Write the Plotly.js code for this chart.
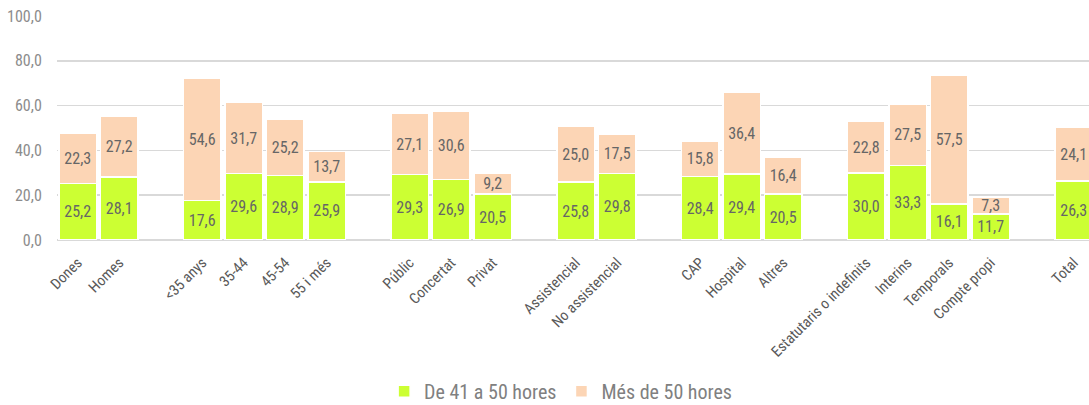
<!DOCTYPE html>
<html>
<head>
<meta charset="utf-8">
<script src="https://cdn.plot.ly/plotly-3.0.1.min.js"></script>
<style>html,body{margin:0;padding:0;background:#fff;}#chart{width:1089px;height:405px;}</style>
</head>
<body>
<div id="chart"></div>
<script>
// Groups of categories (a blank slot separates each group)
const groups = [
  ["Dones", "Homes"],
  ["<35 anys", "35-44", "45-54", "55 i més"],
  ["Públic", "Concertat", "Privat"],
  ["Assistencial", "No assistencial"],
  ["CAP", "Hospital", "Altres"],
  ["Estatutaris o indefinits", "Interins", "Temporals", "Compte propi"],
  ["Total"]
];
// Series values, same order as the flattened groups
const de41a50 = [25.2, 28.1, 17.6, 29.6, 28.9, 25.9, 29.3, 26.9, 20.5, 25.8, 29.8, 28.4, 29.4, 20.5, 30.0, 33.3, 16.1, 11.7, 26.3];
const mesDe50 = [22.3, 27.2, 54.6, 31.7, 25.2, 13.7, 27.1, 30.6, 9.2, 25.0, 17.5, 15.8, 36.4, 16.4, 22.8, 27.5, 57.5, 7.3, 24.1];
const seriesNames = ["De 41 a 50 hores", "Més de 50 hores"];
const yTicks = [0, 20, 40, 60, 80, 100];

// Build categorical x with spacer slots between groups
const cats = [], v1 = [], v2 = [];
let k = 0;
groups.forEach((g, gi) => {
  if (gi > 0) { cats.push(" ".repeat(gi)); v1.push(null); v2.push(null); }
  g.forEach(c => { cats.push(c); v1.push(de41a50[k]); v2.push(mesDe50[k]); k++; });
});

const FONT = '"Roboto Condensed", "Liberation Sans Narrow", "Arial Narrow", Roboto, sans-serif';
const common = {
  type: "bar",
  x: cats,
  texttemplate: "%{y:.1f}",
  textposition: "inside",
  insidetextanchor: "middle",
  constraintext: "none",
  textangle: 0,
  textfont: {family: FONT, size: 16, color: "#666666"},
  hoverinfo: "skip",
  cliponaxis: false
};
const traces = [
  Object.assign({}, common, {y: v1, name: seriesNames[0], marker: {color: "#CCFF33", line: {color: "#ffffff", width: 1.5}}}),
  Object.assign({}, common, {y: v2, name: seriesNames[1], marker: {color: "#FCD5B5", line: {color: "#ffffff", width: 1.5}}})
];

const layout = {
  width: 1089, height: 405,
  margin: {l: 57, r: 0, t: 16, b: 165, autoexpand: false},
  barmode: "stack",
  bargap: 0.09,
  separators: ",.",
  paper_bgcolor: "#ffffff",
  plot_bgcolor: "#ffffff",
  font: {family: FONT, color: "#595959"},
  showlegend: true,
  legend: {
    orientation: "h", x: 0.488, xanchor: "center", y: -0.675, yanchor: "middle",
    font: {family: FONT, size: 20, color: "#808080"},
    traceorder: "normal", itemclick: false, itemdoubleclick: false
  },
  xaxis: {
    type: "category",
    categoryorder: "array", categoryarray: cats,
    range: [-0.5, 24.37],
    tickangle: -45,
    tickfont: {family: FONT, size: 15, color: "#595959"},
    showgrid: false,
    showline: false,
    ticks: "outside", ticklen: 7, tickcolor: "rgba(0,0,0,0)",
    zeroline: false,
    automargin: false
  },
  yaxis: {
    range: [0, 100],
    tickvals: yTicks,
    tickformat: ".1f",
    tickfont: {family: FONT, size: 16, color: "#8C8C8C"},
    showgrid: true, gridcolor: "#D9D9D9", gridwidth: 1.5,
    zeroline: true, zerolinecolor: "#D9D9D9", zerolinewidth: 2,
    showline: false,
    ticks: "outside", ticklen: 11, tickcolor: "rgba(0,0,0,0)",
    automargin: false
  }
};
Plotly.newPlot("chart", traces, layout, {staticPlot: true, displayModeBar: false});
</script>
</body>
</html>
